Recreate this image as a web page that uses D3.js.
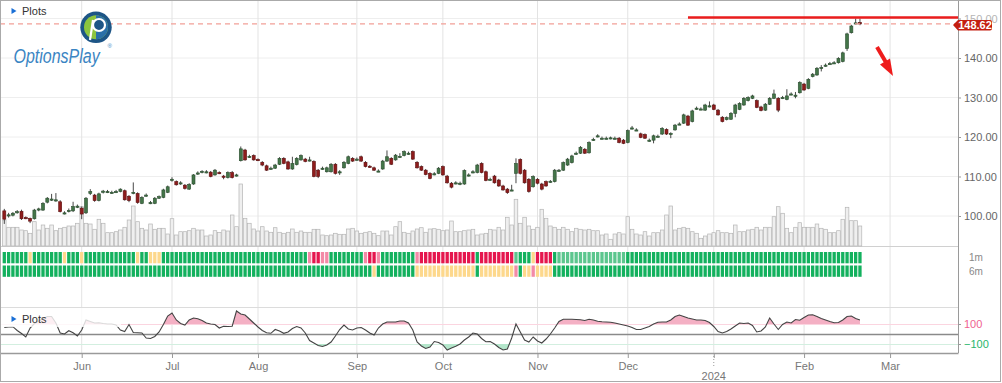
<!DOCTYPE html>
<html><head><meta charset="utf-8">
<script src="https://cdn.jsdelivr.net/npm/d3@7"></script>
<style>body{margin:0;background:#fff;}svg{display:block;font-family:"Liberation Sans",Arial,sans-serif;}</style>
</head><body><svg id="c" width="1002" height="383"></svg>
<script>
// ---------- DATA ----------
const firstDay = "2023-05-05", lastDay = "2024-03-29";
const holidays = ["2023-05-29","2023-06-19","2023-07-04","2023-09-04","2023-11-23","2023-12-25","2024-01-01","2024-01-15","2024-02-19","2024-03-29"];
const monthLabels = ["Jun","Jul","Aug","Sep","Oct","Nov","Dec","","Feb","Mar"];
const yearLabel = "2024";
const priceTicks = [100,110,120,130,140,150];
const lastPrice = 148.62;
const resistance = 150;
// [open, high, low, close]
const ohlc = [
[101.3,101.8,98.0,99.2],[100.0,100.8,99.6,100.3],[100.2,101.0,99.9,100.7],[100.9,101.5,100.6,101.1],[101.2,101.6,99.0,99.3],
[99.6,99.9,99.2,99.5],[99.4,99.6,98.2,98.7],[99.3,101.8,99.1,101.5],[101.6,102.1,101.2,101.8],[101.5,103.5,101.3,103.2],
[103.5,104.8,103.2,104.5],[104.1,105.6,103.8,104.3],[104.0,105.8,103.6,104.1],[103.6,104.0,100.9,101.1],[100.8,101.2,100.4,100.8],
[101.2,101.9,100.9,101.4],[101.3,103.6,101.0,102.4],[102.3,102.9,102.0,102.5],[102.0,102.4,99.2,100.5],[100.8,104.8,100.5,104.5],
[105.7,106.8,105.3,106.2],[105.3,105.6,103.6,103.9],[103.9,105.9,103.7,105.6],[106.0,106.6,105.7,106.3],[106.1,106.6,105.8,106.2],
[106.0,106.4,105.6,106.0],[106.1,106.6,105.8,106.2],[106.2,107.0,106.0,106.8],[106.4,106.7,103.9,104.1],[105.0,105.3,103.5,103.9],
[105.8,108.5,105.5,106.0],[105.7,106.0,103.1,103.4],[103.2,105.0,103.0,104.7],[105.2,105.7,104.9,105.3],[103.4,103.8,103.0,103.4],
[103.2,104.8,103.0,104.5],[104.5,105.2,104.3,104.9],[104.7,106.9,104.5,106.6],[106.0,107.7,105.8,107.4],[109.0,109.8,108.7,109.3],
[108.7,109.0,107.7,107.9],[108.2,108.8,107.9,108.4],[107.8,108.1,106.7,107.0],[106.8,108.3,106.6,108.0],[108.1,110.6,107.9,110.4],
[110.7,111.3,110.4,110.9],[111.1,111.6,110.8,111.3],[111.1,111.6,110.8,111.2],[111.1,111.4,109.8,110.0],[110.4,111.9,110.2,111.6],
[111.0,111.3,110.6,110.9],[110.1,110.4,109.3,110.0],[109.7,111.3,109.5,111.0],[111.0,111.4,109.5,109.7],[110.3,110.7,110.0,110.4],
[114.0,117.6,113.8,117.0],[116.7,117.0,114.0,114.2],[115.0,115.5,114.7,115.1],[115.3,115.6,114.0,114.2],[114.3,114.6,113.9,114.2],
[113.6,113.9,112.6,112.9],[112.7,113.0,111.4,111.6],[112.0,112.5,111.7,112.1],[112.1,113.2,111.9,112.9],[113.1,114.9,112.9,114.6],
[114.6,114.9,113.1,113.3],[113.7,114.0,111.7,111.9],[111.9,115.0,111.7,113.3],[113.0,114.9,112.8,114.6],[114.2,115.6,114.0,115.3],
[114.4,114.7,113.6,113.8],[114.1,115.0,113.8,114.2],[113.8,114.1,109.8,110.0],[111.6,111.9,109.6,110.0],[112.0,112.5,111.7,112.1],
[111.2,112.5,111.0,112.2],[111.2,113.4,111.0,113.1],[113.1,113.4,110.5,110.8],[111.1,111.6,110.4,111.2],[112.2,113.9,112.0,113.6],
[113.3,115.3,113.1,115.0],[114.6,114.9,113.7,113.9],[114.3,114.8,114.0,114.4],[115.0,115.3,113.7,113.9],[113.6,113.9,112.3,112.5],
[112.6,112.9,112.2,112.5],[112.2,112.5,111.4,111.6],[111.4,111.8,111.1,111.4],[111.9,114.2,111.7,113.9],[113.9,116.6,113.7,115.0],
[114.6,114.9,112.9,113.1],[114.2,115.7,114.0,115.4],[115.0,115.9,114.7,115.1],[115.3,116.6,115.1,116.3],[115.9,116.3,115.5,115.9],
[116.3,116.6,114.2,114.4],[113.6,113.9,112.0,112.2],[112.5,112.8,111.4,111.6],[111.6,111.9,110.3,110.5],[110.8,111.1,109.3,109.5],
[110.6,111.1,110.3,110.7],[110.8,112.4,110.6,112.1],[112.5,112.8,110.2,110.4],[110.1,110.4,108.2,108.4],[108.3,108.6,107.0,107.3],
[108.3,108.8,108.0,108.4],[108.2,108.7,107.8,108.3],[108.1,111.8,107.9,111.5],[110.3,110.8,110.0,110.4],[111.1,111.6,110.8,111.2],
[111.0,113.2,110.8,112.9],[113.3,113.6,110.8,111.0],[111.2,111.5,108.8,109.0],[109.3,109.7,108.9,109.3],[110.1,110.4,108.2,108.4],
[109.1,109.4,107.4,107.6],[107.6,107.9,106.4,106.6],[106.8,107.1,105.6,105.9],[106.6,107.9,106.3,106.6],[110.8,114.6,108.3,113.3],
[114.3,114.6,110.5,110.8],[111.6,111.9,108.2,108.4],[109.3,109.6,105.9,106.2],[107.4,110.3,107.2,110.0],[109.3,109.6,108.0,108.3],
[108.1,108.4,106.5,106.8],[108.7,109.0,107.4,107.6],[108.7,109.1,108.4,108.8],[108.7,111.9,108.5,111.6],[111.5,111.9,111.2,111.6],
[111.6,113.8,111.4,113.5],[112.9,114.7,112.7,114.4],[113.5,115.5,113.3,115.2],[115.8,116.3,115.5,115.9],[115.9,117.7,115.7,117.4],
[116.9,117.2,115.7,115.9],[116.0,118.9,115.8,118.6],[119.3,119.8,119.0,119.4],[120.2,120.7,119.9,120.3],[119.7,120.1,119.4,119.7],
[119.7,120.1,119.4,119.7],[119.7,120.1,119.4,119.8],[119.7,120.1,119.4,119.7],[119.7,120.0,118.4,118.6],[119.2,119.5,118.2,118.4],
[118.6,121.9,118.4,121.6],[122.2,122.8,121.9,122.3],[121.8,122.2,121.5,121.8],[120.8,121.1,119.7,119.9],[120.6,120.9,119.5,119.7],
[119.2,119.6,118.8,119.2],[119.2,120.6,118.4,120.3],[120.2,120.6,119.9,120.2],[120.75,122.5,120.5,122.2],[121.9,122.2,120.5,120.75],
[120.9,121.2,119.7,120.9],[121.8,123.3,121.6,123.0],[123.3,123.7,123.0,123.3],[123.5,125.9,123.3,125.6],[125.3,125.6,122.8,123.0],
[123.9,126.9,123.7,126.6],[127.2,127.7,126.9,127.3],[127.1,127.5,126.8,127.1],[126.8,128.4,126.6,128.1],[127.8,129.0,127.5,127.9],
[128.1,128.4,126.8,127.0],[126.8,127.1,125.4,125.6],[125.0,125.3,123.7,123.9],[124.4,125.2,124.2,124.9],[124.5,126.3,124.3,126.0],
[126.0,128.4,125.0,128.1],[127.0,128.8,126.8,128.5],[128.1,130.1,127.9,129.8],[129.2,130.3,129.0,130.0],[129.8,130.7,129.6,130.4],
[129.2,129.5,127.3,127.5],[127.6,127.9,126.5,126.7],[126.8,128.6,126.6,128.3],[128.3,130.1,128.1,129.8],[129.8,132.0,129.6,130.9],
[129.8,130.1,126.3,126.8],[130.0,130.4,129.6,130.0],[129.5,132.1,129.3,130.4],[130.9,131.3,130.6,130.9],[130.6,131.4,129.8,130.6],
[131.2,134.1,131.0,133.8],[133.4,133.7,131.7,131.9],[132.3,134.9,132.1,134.6],[135.3,136.2,135.1,135.9],[135.7,137.7,135.5,137.4],
[137.5,138.2,136.6,137.6],[138.1,138.6,137.8,138.2],[138.5,139.0,138.3,138.6],[138.7,139.2,138.5,138.8],[138.8,140.2,138.6,139.9],
[139.1,141.6,138.9,141.3],[142.4,146.4,141.8,146.1],[146.4,148.4,146.2,148.1],[148.8,150.0,148.5,148.9],[149.0,150.0,148.3,148.62]
];
const volume = [
26,18.7,18.7,18.7,16,15.3,12.7,24.3,16,21,17.7,21,15.3,17.7,18.7,20,20,22.7,39.3,22.7,22,16.7,26.7,22.7,13.3,13.3,14.3,16,18.7,26,
40,24.3,17.7,16,22,16.7,17.7,17.7,12,27.3,11,14.3,14.3,15.3,17.7,16,16,10,11,15.3,13.5,
16,15,31,19.3,62,27.7,22.7,17,15,19.3,15,13.7,18.3,13.7,12.7,13.7,17,13.7,15,13.7,13.7,16.7,16.7,11,10.3,11,12.7,11.7,11.7,17,
17.7,15,12.7,13.7,14.3,12.7,10.3,15,15,11,19.3,24.3,13.7,12.7,15,17,18.3,13.7,17,17.3,
16.7,15.3,16,25,14.3,14.3,15.3,16,16.7,11,12,12.7,16.7,16,18.7,16,28.7,21,46.7,22.7,28.7,20,16.7,18.7,36.7,27.7,20,18.7,16.7,18.7,
16.7,14.3,17.7,16.7,16,16.7,15.3,15.3,11,12,6.7,12,13.3,12,29.3,16.7,12,11,14.3,10,
13.3,13.3,16,31,40,16,17.7,18.7,17.7,14.3,12.7,7.7,10,12,13.3,15.3,13.3,13.3,12.7,21,14.3,14.3,16,16.7,18.7,16,18.7,18.7,29.3,39.3,
32.7,17.7,13.3,18.7,23.3,18.7,18.7,18.7,22,17.7,16.7,13.3,13.3,15.3,26.7,38.7,25.3,25.3,20
];
const cci = [
65,70,73,35,5,-30,60,105,130,153,175,175,110,10,0,33,13,-20,40,140,
125,110,113,105,100,100,90,40,25,95,15,13,10,-40,-45,-25,20,95,180,210,
140,105,90,140,160,152,135,110,100,95,60,77,75,78,230,200,190,150,110,70,
35,12,7,45,30,7,20,55,75,60,10,-65,-90,-115,-125,-110,-80,-20,45,90,
50,40,60,65,40,10,-10,60,100,120,120,120,130,130,110,40,-80,-120,-145,-130,
-75,-85,-110,-160,-140,-123,-100,-60,-30,10,0,-45,-77,-75,-100,-135,-160,-150,-40,100,
20,-60,-80,-30,-70,-90,-50,0,60,125,147,147,147,145,142,135,147,140,127,122,
120,117,110,100,90,80,65,45,45,60,75,100,118,120,120,140,175,190,175,160,
150,140,140,135,115,75,25,10,25,50,80,110,105,110,85,20,30,70,160,100,
45,95,120,110,145,138,165,190,192,175,155,140,125,113,115,140,175,180,155,140
];
const cciLevels = [100,-100];
// signal rows as run lengths [code, count]
const row1m = [["G",6],["Y",1],["G",7],["Y",1],["G",3],["Y",1],["G",12],["Y",1],["G",2],["Y",3],["G",34],["P",1],["R",2],["P",2],["G",8],["P",1],["R",2],["P",1],["G",8],["P",1],["R",13],["G",1],["R",8],["L",1],["G",3],["Y",1],["R",4],["G",1],["L",16],["G",55]];
const row6m = [["G",86],["Y",1],["G",9],["Y",14],["G",1],["Y",8],["P",1],["G",1],["Y",2],["P",1],["Y",4],["G",72]];
const rowLabels = ["1m","6m"];
const signalColors = {G:"#13b15e",L:"#5cc68e",Y:"#fdd88c",R:"#e5164e",P:"#f38aa7"};

// ---------- BUILD ----------
const days=[];
for(let d=new Date(firstDay+"T00:00:00Z"); d<=new Date(lastDay+"T00:00:00Z"); d.setUTCDate(d.getUTCDate()+1)){
  const w=d.getUTCDay(), s=d.toISOString().slice(0,10);
  if(w>0&&w<6&&!holidays.includes(s)) days.push(s);
}
const monthIdx=[];
days.forEach((d,i)=>{ if(i>0 && d.slice(5,7)!==days[i-1].slice(5,7)) monthIdx.push(i); });
const janIdx = monthIdx[7];
const expand = r => r.flatMap(([c,n])=>Array(n).fill(c));
const sig1m = expand(row1m), sig6m = expand(row6m);

const svg=d3.select("#c");
const R=958;
const x=d3.scaleLinear().domain([-1,221.8]).range([0,R]);
const yP=d3.scaleLinear().domain([100,150]).range([216,18.5]);
const yV=d3.scaleLinear().domain([0,65]).range([246,181]);
const yC=d3.scaleLinear().domain([-100,100]).range([344,324]);

svg.append("rect").attr("width",1002).attr("height",383).attr("fill","#fff");

// horizontal price grid
svg.append("g").selectAll("line").data(priceTicks).join("line")
  .attr("x1",0).attr("x2",R).attr("y1",d=>yP(d)).attr("y2",d=>yP(d))
  .attr("stroke","#eeeeee");
// vertical month grid
svg.append("g").selectAll("line").data(monthIdx).join("line")
  .attr("x1",d=>x(d)).attr("x2",d=>x(d)).attr("y1",0).attr("y2",353)
  .attr("stroke","#e3e3e3");

// pane separators
const hl=(y,c,w)=>svg.append("line").attr("x1",0).attr("x2",R).attr("y1",y).attr("y2",y).attr("stroke",c).attr("stroke-width",w||1);
hl(246.5,"#d0d0d0");
hl(307.5,"#dcdcdc");

// volume
svg.append("g").selectAll("rect").data(volume).join("rect")
  .attr("x",(d,i)=>x(i)-1.8).attr("width",3.6)
  .attr("y",d=>yV(d)).attr("height",d=>yV(0)-yV(d))
  .attr("fill","#efefef").attr("stroke","#b5b5b5").attr("stroke-width",0.7);

// candles
const cg=svg.append("g");
ohlc.forEach((d,i)=>{
  const [o,h,l,c]=d, up=c>=o, cx=x(i);
  cg.append("line").attr("x1",cx).attr("x2",cx).attr("y1",yP(h)).attr("y2",yP(l)).attr("stroke","#333").attr("stroke-width",0.9);
  const top=yP(Math.max(o,c)), ht=Math.max(1.2,Math.abs(yP(o)-yP(c)));
  cg.append("rect").attr("x",cx-1.5).attr("width",3).attr("y",top).attr("height",ht)
    .attr("fill",up?"#437548":"#8e1c1c").attr("stroke",up?"#2c4d30":"#5c1010").attr("stroke-width",0.6);
});

// last price dashed line and resistance line
svg.append("line").attr("x1",0).attr("x2",R).attr("y1",yP(lastPrice)).attr("y2",yP(lastPrice))
  .attr("stroke","#f2a098").attr("stroke-width",1.2).attr("stroke-dasharray","5,4");
svg.append("line").attr("x1",x(159)).attr("x2",R).attr("y1",yP(resistance)-1).attr("y2",yP(resistance)-1)
  .attr("stroke","#ea1d1d").attr("stroke-width",2.5);

// red arrow
svg.append("line").attr("x1",877).attr("y1",47).attr("x2",887.5).attr("y2",65).attr("stroke","#ee1c1c").attr("stroke-width",4);
svg.append("path").attr("d","M893,76 L880,64.5 L890,58.5 Z").attr("fill","#ee1c1c");

// right axis line
svg.append("line").attr("x1",R+0.5).attr("x2",R+0.5).attr("y1",0).attr("y2",353).attr("stroke","#9a9a9a");

// price axis
const ya=svg.append("g").attr("transform",`translate(${R},0)`)
  .call(d3.axisRight(yP).tickValues(priceTicks).tickFormat(d3.format(".2f")).tickSize(3).tickPadding(3));
ya.select(".domain").remove();
ya.selectAll("line").attr("stroke","#999");
ya.selectAll("text").attr("fill",d=>d===150?"#b5b5b5":"#666").attr("font-size",11).attr("font-family","Liberation Sans, Arial");

// last price label
const ly=yP(lastPrice);
svg.append("path").attr("d",`M953,${ly+1} L958,${ly-4} L990,${ly-4} Q992,${ly-4} 992,${ly-2} L992,${ly+4.5} Q992,${ly+6.5} 990,${ly+6.5} L958,${ly+6.5} Z`).attr("fill","#c41e10");
svg.append("text").attr("x",975).attr("y",ly+5.2).attr("text-anchor","middle").attr("fill","#fff")
  .attr("font-size",11).attr("font-weight","bold").text(lastPrice.toFixed(2));

// signal rows
const rows=[{y:252,d:sig1m},{y:265.5,d:sig6m}];
rows.forEach((r,k)=>{
  svg.append("g").selectAll("rect").data(r.d).join("rect")
    .attr("x",(d,i)=>x(i)-1.65).attr("width",3.3).attr("y",r.y).attr("height",11.3)
    .attr("fill",d=>signalColors[d]);
  svg.append("text").attr("x",976).attr("y",r.y+9).attr("text-anchor","middle").attr("fill","#888")
    .attr("font-size",10).text(rowLabels[k]);
});

// indicator pane
const defs=svg.append("defs");
defs.append("clipPath").attr("id","above").append("rect").attr("x",0).attr("y",0).attr("width",R).attr("height",yC(100));
defs.append("clipPath").attr("id","below").append("rect").attr("x",0).attr("y",yC(-100)).attr("width",R).attr("height",100);
hl(yC(100)+0.5,"#fbd5e0");
hl(yC(-100)+0.5,"#d3efe0");
svg.append("path").datum(cci).attr("clip-path","url(#above)")
  .attr("d",d3.area().x((d,i)=>x(i)).y0(yC(100)).y1(d=>yC(d))).attr("fill","#f4b0c4");
svg.append("path").datum(cci).attr("clip-path","url(#below)")
  .attr("d",d3.area().x((d,i)=>x(i)).y0(yC(-100)).y1(d=>yC(d))).attr("fill","#b4e6cb");
hl(yC(0)+0.5,"#8a8a8a",1.5);
svg.append("path").datum(cci).attr("d",d3.line().x((d,i)=>x(i)).y(d=>yC(d)))
  .attr("fill","none").attr("stroke","#444").attr("stroke-width",1.1);
const ca=svg.append("g").attr("transform",`translate(${R},0)`)
  .call(d3.axisRight(yC).tickValues(cciLevels).tickFormat(d3.format("d")).tickSize(3).tickPadding(3));
ca.select(".domain").remove();
ca.selectAll("line").attr("stroke","#999");
ca.selectAll("text").attr("fill",d=>d>0?"#f0628f":"#27b56c").attr("font-size",11).attr("font-family","Liberation Sans, Arial");

// faded label box in indicator pane
svg.append("rect").attr("x",1).attr("y",308).attr("width",120).attr("height",19).attr("fill","#fff").attr("opacity",0.8);
const plotsLabel=(px,py)=>{
  svg.append("path").attr("d",`M${px},${py-6} L${px+5},${py-3} L${px},${py} Z`).attr("fill","#1a6fd6");
  svg.append("text").attr("x",px+10.5).attr("y",py+0.5).attr("fill","#333").attr("font-size",11).text("Plots");
};
plotsLabel(11.5,14);
plotsLabel(11.5,322);

// x axis
const xa=svg.append("g").attr("transform","translate(0,353)")
  .call(d3.axisBottom(x).tickValues(monthIdx).tickFormat((d,k)=>monthLabels[k]).tickSize(5).tickPadding(4).tickSizeOuter(0));
xa.select(".domain").attr("stroke","#9a9a9a").attr("stroke-width",1.5);
xa.selectAll("line").attr("stroke","#999");
xa.selectAll("text").attr("fill","#777").attr("font-size",11).attr("font-family","Liberation Sans, Arial");
svg.append("line").attr("x1",x(janIdx)).attr("x2",x(janIdx)).attr("y1",353).attr("y2",368)
  .attr("stroke","#999").attr("stroke-dasharray","1,2");
svg.append("text").attr("x",x(janIdx)).attr("y",379.5).attr("text-anchor","middle").attr("fill","#777").attr("font-size",11).text(yearLabel);

// logo
const lg=svg.append("g");
lg.append("circle").attr("cx",96).attr("cy",27.3).attr("r",15.7).attr("fill","#1d5586");
lg.append("circle").attr("cx",96).attr("cy",27.3).attr("r",12).attr("fill","#8cc43f");
lg.append("path").attr("d","M96,15.3 A12,12 0 0 1 96,39.3 Z").attr("fill","#2a6fa8");
lg.append("circle").attr("cx",99).attr("cy",25).attr("r",6).attr("fill","#1d5586").attr("stroke","#fff").attr("stroke-width",2.2);
lg.append("line").attr("x1",93).attr("y1",20).attr("x2",90).attr("y2",40).attr("stroke","#fff").attr("stroke-width",2.2);
lg.append("text").attr("transform","translate(13.5,62.5) scale(0.82,1)").attr("font-size",19.5).attr("font-style","italic").attr("fill","#3a85c3")
  .text("OptionsPlay");
lg.append("text").attr("x",107.5).attr("y",47.5).attr("font-size",6).attr("fill","#3a85c3").text("®");

// outer border
svg.append("rect").attr("x",0.5).attr("y",0.5).attr("width",1000).attr("height",381).attr("fill","none").attr("stroke","#aaa");
</script></body></html>
